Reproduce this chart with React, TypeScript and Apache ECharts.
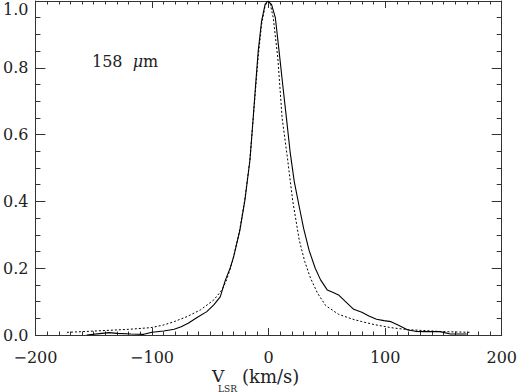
import React, { useEffect, useRef } from "react";
import * as echarts from "echarts";

// Observed line profile (solid)
const obsVelocity = [
  -156, -145, -137, -130, -118, -107, -100, -90, -81, -75, -69, -61, -53, -47,
  -41.5, -37, -33, -30, -24.6, -20.3, -16, -13.3, -11.1, -8.9, -6, -3, -0.6,
  2.5, 5.8, 9.0, 12.1, 15.3, 18.4, 22, 26.3, 30, 34.7, 40, 44.6, 50.3, 55, 60,
  66, 73, 80, 86, 92.6, 99, 105, 111, 119.5, 126, 133.6, 140, 147, 156, 170,
];
const obsFlux = [
  0.0, 0.004, 0.007, 0.005, 0.003, 0.002, 0.008, 0.012, 0.017, 0.025, 0.035,
  0.053, 0.07, 0.09, 0.114, 0.165, 0.2, 0.234, 0.314, 0.404, 0.524, 0.645,
  0.75, 0.85, 0.94, 0.99, 1.0, 0.99, 0.95, 0.85, 0.75, 0.65, 0.55, 0.46, 0.384,
  0.32, 0.254, 0.2, 0.165, 0.135, 0.128, 0.12, 0.1, 0.077, 0.068, 0.057, 0.047,
  0.043, 0.04, 0.03, 0.015, 0.011, 0.01, 0.01, 0.01, 0.003, 0.003,
];

// Model profile (dotted)
const modVelocity = [
  -173, -160, -143, -120, -101, -90, -81, -70, -58.5, -47, -40, -36, -31, -25,
  -20.5, -16, -13.3, -9, -6, -3, -1, 1.5, 4, 7.9, 11.6, 16.4, 20.6, 26.3, 31,
  36, 42, 49, 60, 71.5, 80, 91, 105, 119.5, 135, 150, 173,
];
const modFlux = [
  0.008, 0.01, 0.013, 0.017, 0.022, 0.03, 0.04, 0.055, 0.075, 0.105, 0.135,
  0.165, 0.22, 0.31, 0.404, 0.524, 0.645, 0.83, 0.93, 0.985, 1.0, 0.99, 0.95,
  0.83, 0.65, 0.524, 0.404, 0.284, 0.22, 0.17, 0.125, 0.088, 0.062, 0.048,
  0.04, 0.031, 0.022, 0.016, 0.013, 0.01, 0.008,
];

const xTicks = { min: -200, max: 200, interval: 100 };
const yTicks = { min: 0, max: 1, interval: 0.2 };

const FONT = "DejaVu Serif";
const AXIS_COLOR = "#333";

export default function App() {
  const ref = useRef<HTMLDivElement>(null);
  useEffect(() => {
    if (!ref.current) return;
    const chart = echarts.init(ref.current, undefined, { renderer: "svg" });
    const fmtX = (v: number) => (v < 0 ? "\u2212" + Math.abs(v) : String(v));
    const axisLine = { show: true, onZero: false, lineStyle: { color: AXIS_COLOR, width: 1 } };
    const xCommon = {
      type: "value" as const,
      min: xTicks.min,
      max: xTicks.max,
      interval: xTicks.interval,
      splitLine: { show: false },
      axisLine,
      axisTick: { show: true, inside: true, length: 7, lineStyle: { color: AXIS_COLOR } },
      minorTick: { show: true, splitNumber: 10, length: 3.5, lineStyle: { color: AXIS_COLOR } },
    };
    const yCommon = {
      type: "value" as const,
      min: yTicks.min,
      max: yTicks.max,
      interval: yTicks.interval,
      splitLine: { show: false },
      axisLine,
      axisTick: { show: true, inside: true, length: 10, lineStyle: { color: AXIS_COLOR } },
      minorTick: { show: true, splitNumber: 4, length: 5, lineStyle: { color: AXIS_COLOR } },
    };
    chart.setOption({
      animation: false,
      backgroundColor: "#fff",
      grid: { left: 33, right: 15, top: 1, bottom: 57, containLabel: false },
      xAxis: [
        {
          ...xCommon,
          position: "bottom",
          axisLabel: {
            show: true,
            margin: 15,
            fontFamily: FONT,
            fontSize: 16,
            lineHeight: 15,
            color: "#222",
            formatter: fmtX,
          },
        },
        { ...xCommon, position: "top", axisLabel: { show: false } },
      ],
      yAxis: [
        {
          ...yCommon,
          position: "left",
          axisLabel: {
            show: true,
            margin: 7,
            fontFamily: FONT,
            fontSize: 16,
            color: "#222",
            formatter: (v: number) => v.toFixed(1),
            verticalAlignMaxLabel: "top",
          },
        },
        { ...yCommon, position: "right", axisLabel: { show: false } },
      ],
      graphic: [
        {
          type: "text",
          left: 92,
          top: 53,
          style: {
            text: "{a|158  }{b|\u03bc}{a|m}",
            rich: {
              a: { fontFamily: FONT, fontSize: 16, fill: "#222" },
              b: { fontFamily: FONT, fontSize: 16, fontStyle: "italic", fill: "#222" },
            },
          },
        },
        {
          type: "text",
          left: 212,
          top: 367,
          style: { text: "V", fontFamily: FONT, fontSize: 17, lineHeight: 17, fill: "#222" },
        },
        {
          type: "text",
          left: 218,
          top: 384,
          style: { text: "LSR", fontFamily: FONT, fontSize: 9, lineHeight: 8, fill: "#222" },
        },
        {
          type: "text",
          left: 242,
          top: 367,
          style: { text: "(km/s)", fontFamily: FONT, fontSize: 18, lineHeight: 19, fill: "#222" },
        },
      ],
      series: [
        {
          type: "line",
          xAxisIndex: 0,
          yAxisIndex: 0,
          data: obsVelocity.map((v, i) => [v, obsFlux[i]]),
          showSymbol: false,
          symbol: "none",
          lineStyle: { color: "#000", width: 1.1, type: "solid" },
          z: 3,
        },
        {
          type: "line",
          xAxisIndex: 0,
          yAxisIndex: 0,
          data: modVelocity.map((v, i) => [v, modFlux[i]]),
          showSymbol: false,
          symbol: "none",
          lineStyle: { color: "#000", width: 1, type: [2, 2] },
          z: 2,
        },
      ],
    });
    return () => chart.dispose();
  }, []);
  return <div ref={ref} style={{ width: 520, height: 392, position: "fixed", left: 0, top: 0 }} />;
}
